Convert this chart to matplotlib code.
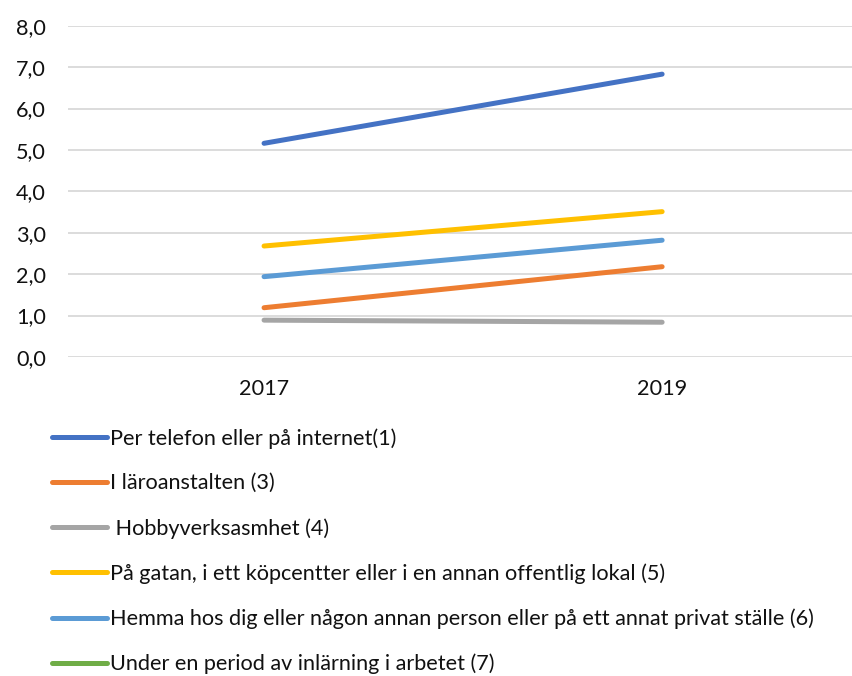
import matplotlib
matplotlib.use("Agg")
import matplotlib.pyplot as plt
import numpy as np
from matplotlib.ticker import FuncFormatter

years = ["2017", "2019"]
labels = [
    "Per telefon eller på internet(1)",
    "I läroanstalten (3)",
    " Hobbyverksasmhet (4)",
    "På gatan, i ett köpcentter eller i en annan offentlig lokal (5)",
    "Hemma hos dig eller någon annan person eller på ett annat privat ställe (6)",
    "Under en period av inlärning i arbetet (7)",
]
telefon = [5.16, 6.83]
laroanstalt = [1.19, 2.18]
hobby = [0.89, 0.84]
gatan = [2.68, 3.51]
hemma = [1.94, 2.82]
arbete = [np.nan, np.nan]
series = [telefon, laroanstalt, hobby, gatan, hemma, arbete]
colors = ["#4472C4", "#ED7D31", "#A5A5A5", "#FFC000", "#5B9BD5", "#70AD47"]

plt.rcParams['font.family'] = ['Lato', 'DejaVu Sans']
W, H = 852, 676
fig = plt.figure(figsize=(W / 100, H / 100), dpi=100)
left, right = 68, 852
bottom, top = 357, 25.7
ax = fig.add_axes([left / W, (H - bottom) / H, (right - left) / W, (bottom - top) / H])

x = np.arange(len(years))
handles = []
for vals, lab, c in zip(series, labels, colors):
    h, = ax.plot(x, vals, color=c, lw=3.6, solid_capstyle='round', label=lab)
    handles.append(h)

FS = 15.6
ax.set_ylim(0, 8)
ax.set_yticks(np.arange(0, 9, 1))
ax.yaxis.set_major_formatter(FuncFormatter(lambda v, p: f"{v:.1f}".replace(".", ",")))
ax.set_xlim(-0.4925, 1.477)
ax.set_xticks(x)
ax.set_xticklabels(years)
ax.grid(axis='y', color='#D9D9D9', lw=1.3)
ax.set_axisbelow(True)
for s in ax.spines.values():
    s.set_visible(False)
ax.tick_params(axis='both', length=0, labelsize=FS, colors='#111111')
ax.tick_params(axis='y', pad=16)
ax.tick_params(axis='x', pad=16)

leg = fig.legend(handles=handles, loc='upper left', bbox_to_anchor=(52 / W, 1 - 428 / H),
                 frameon=False, fontsize=FS, handlelength=2.55, handletextpad=0.15,
                 labelspacing=1.14, borderaxespad=0, borderpad=0)
for t in leg.get_texts():
    t.set_color('#111111')

fig.savefig("out.png", dpi=100)
